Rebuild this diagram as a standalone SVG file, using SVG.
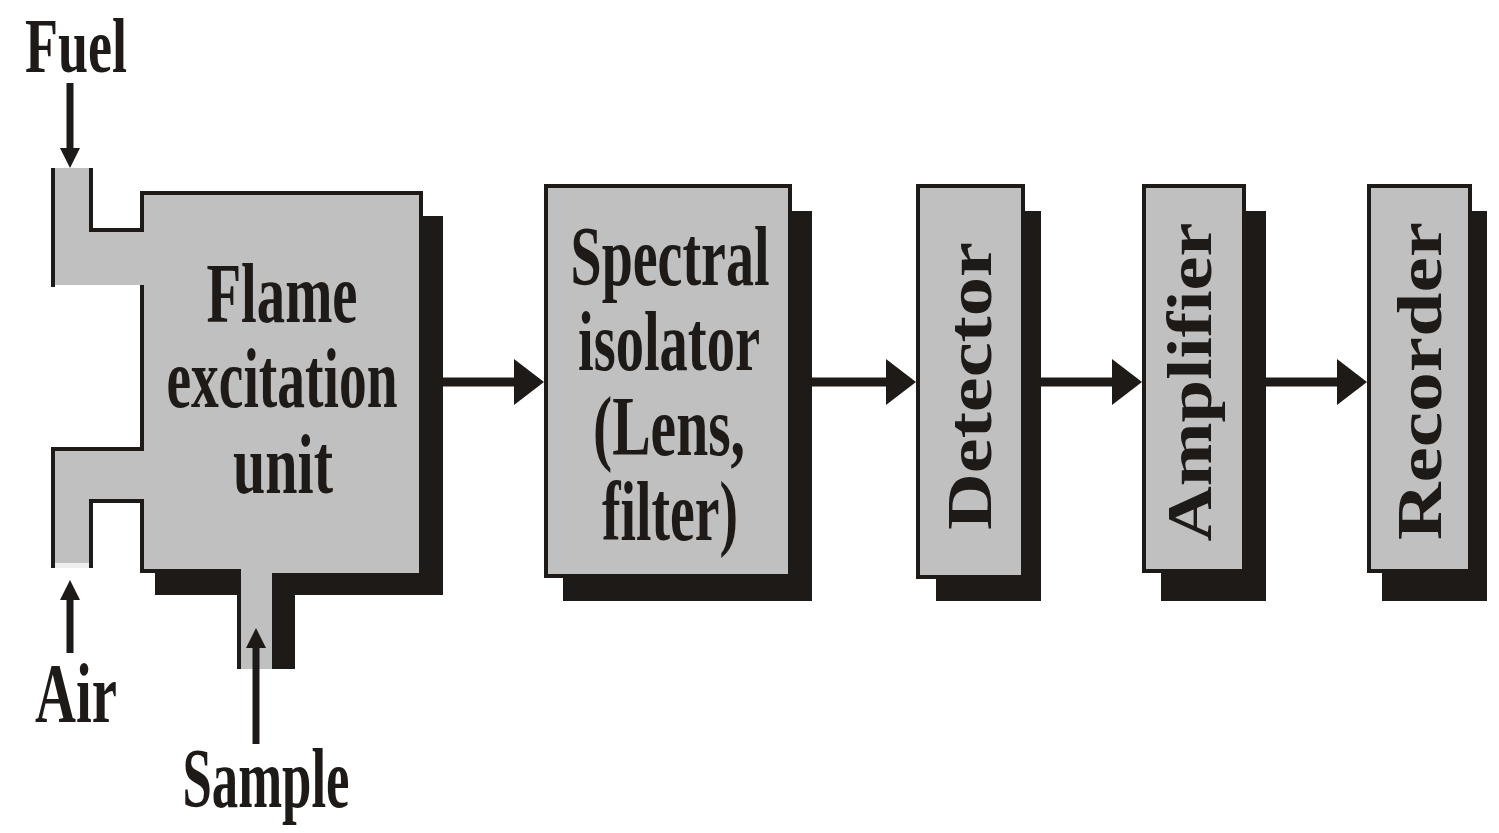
<svg xmlns="http://www.w3.org/2000/svg" width="1499" height="833" viewBox="0 0 1499 833">
<defs>
<style>
.sh{fill:#1e1a18}
.bx{fill:#c0c0c0;stroke:#1e1a18;stroke-width:4}
.ol{fill:none;stroke:#1e1a18;stroke-width:4;stroke-linecap:square}
.t{font-family:"Liberation Serif","Times New Roman",serif;font-weight:bold;fill:#1e1a18;text-anchor:middle}
.h{font-size:84px}
.v{font-size:64px}
.c{stroke:#1e1a18;stroke-width:9;fill:none}
.cs{stroke:#1e1a18;stroke-width:7;fill:none}
</style>
<marker id="ah" markerUnits="userSpaceOnUse" markerWidth="30" markerHeight="46" refX="10" refY="23" orient="auto" viewBox="0 0 30 46">
<path d="M0,0 L30,23 L0,46 z" fill="#1e1a18"/>
</marker>
<marker id="ahs" markerUnits="userSpaceOnUse" markerWidth="20" markerHeight="20" refX="6" refY="10" orient="auto" viewBox="0 0 20 20">
<path d="M0,0 L20,10 L0,20 z" fill="#1e1a18"/>
</marker>
</defs>
<rect width="1499" height="833" fill="#ffffff"/>

<g id="flame">
<rect class="sh" x="155" y="216" width="288" height="379"/>
<rect class="sh" x="272" y="573" width="23" height="96"/>
<path d="M51,168 H93 V228 H140 V191 H423 V573 H272 V669 H237 V573 H140 V503 H93 V568 H51 V447 H140 V285 H51 Z" fill="#c0c0c0"/>
<path class="ol" d="M53,170 V285"/>
<path class="ol" d="M91,170 V230 H142 V193 H421 V571"/>
<path class="ol" d="M142,287 V449 H53 V566"/>
<path class="ol" d="M91,566 V501 H142 V571 H239 V667"/>
<rect x="55" y="563" width="34" height="5" fill="#eeeeee"/>
<text class="t h" x="282" y="322" textLength="151" lengthAdjust="spacingAndGlyphs">Flame</text>
<text class="t h" x="282" y="407" textLength="231" lengthAdjust="spacingAndGlyphs">excitation</text>
<text class="t h" x="283" y="493" textLength="100" lengthAdjust="spacingAndGlyphs">unit</text>
</g>

<g id="fuel"><text class="t" style="font-size:78px" x="76" y="72" textLength="102" lengthAdjust="spacingAndGlyphs">Fuel</text></g>
<g id="air"><text class="t h" x="76" y="722" textLength="82" lengthAdjust="spacingAndGlyphs">Air</text></g>
<g id="sample"><text class="t h" x="266" y="807" textLength="167" lengthAdjust="spacingAndGlyphs">Sample</text></g>

<g id="spectral">
<rect class="sh" x="563" y="211" width="249" height="390"/>
<rect class="bx" x="546" y="186" width="244" height="390"/>
<text class="t h" x="670" y="285" textLength="199" lengthAdjust="spacingAndGlyphs">Spectral</text>
<text class="t h" x="669" y="370" textLength="182" lengthAdjust="spacingAndGlyphs">isolator</text>
<text class="t h" x="669" y="455" textLength="152" lengthAdjust="spacingAndGlyphs">(Lens,</text>
<text class="t h" x="670" y="540" textLength="136" lengthAdjust="spacingAndGlyphs">filter)</text>
</g>

<g id="detector">
<rect class="sh" x="936" y="211" width="105" height="390"/>
<rect class="bx" x="918" y="186" width="105" height="391"/>
<text class="t v" transform="translate(991,386) rotate(-90)" x="0" y="0" textLength="288" lengthAdjust="spacingAndGlyphs">Detector</text>
</g>

<g id="amplifier">
<rect class="sh" x="1161" y="211" width="105" height="390"/>
<rect class="bx" x="1144" y="186" width="100" height="385"/>
<text class="t v" transform="translate(1211,382) rotate(-90)" x="0" y="0" textLength="319" lengthAdjust="spacingAndGlyphs">Amplifier</text>
</g>

<g id="recorder">
<rect class="sh" x="1382" y="211" width="105" height="390"/>
<rect class="bx" x="1369" y="186" width="101" height="385"/>
<text class="t v" transform="translate(1441,381) rotate(-90)" x="0" y="0" textLength="318" lengthAdjust="spacingAndGlyphs">Recorder</text>
</g>

<g id="connectors">
<line class="c" x1="443" y1="382" x2="524" y2="382" marker-end="url(#ah)"/>
<line class="c" x1="812" y1="382" x2="896" y2="382" marker-end="url(#ah)"/>
<line class="c" x1="1041" y1="382" x2="1122" y2="382" marker-end="url(#ah)"/>
<line class="c" x1="1266" y1="382" x2="1347" y2="382" marker-end="url(#ah)"/>
<line class="cs" x1="70" y1="83" x2="70" y2="154" marker-end="url(#ahs)"/>
<line class="cs" x1="70" y1="653" x2="70" y2="594" marker-end="url(#ahs)"/>
<line class="cs" x1="256" y1="744" x2="256" y2="642" marker-end="url(#ahs)"/>
</g>
</svg>
